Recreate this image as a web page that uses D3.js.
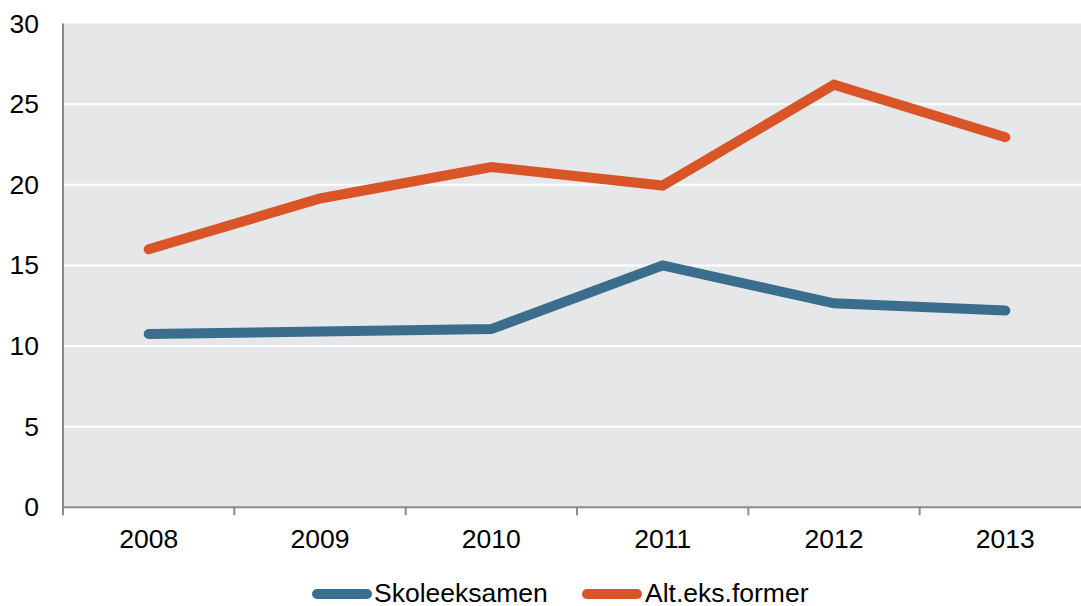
<!DOCTYPE html>
<html><head><meta charset="utf-8">
<script src="https://cdn.jsdelivr.net/npm/d3@7"></script>
<style>body{margin:0;background:#fff}svg{display:block}text{font-family:"Liberation Sans",Arial,sans-serif;fill:#000}</style>
</head><body><svg id="c" width="1081" height="606"></svg>
<script>
const years = ["2008","2009","2010","2011","2012","2013"];
const skoleeksamen = [10.75, 10.9, 11.05, 15.0, 12.65, 12.2];
const altEksFormer = [16.0, 19.15, 21.1, 19.95, 26.2, 22.95];
const yTicks = [0,5,10,15,20,25,30];
const seriesNames = ["Skoleeksamen","Alt.eks.former"];
const colors = ["#3b6d8d","#d95427"];

const svg = d3.select("#c");
const L = 63, R = 1091, T = 23.5, B = 507.3;
const x = d3.scaleBand().domain(years).range([L,R]);
const y = d3.scaleLinear().domain([0,30]).range([B,T]);

svg.append("rect").attr("x",L).attr("y",T).attr("width",R-L).attr("height",B-T).attr("fill","#e6e7e9");
svg.selectAll(".grid").data(yTicks.filter(d=>d>0 && d<30)).enter().append("line")
  .attr("x1",L).attr("x2",R).attr("y1",d=>y(d)).attr("y2",d=>y(d))
  .attr("stroke","#fff").attr("stroke-width",2);

// axes
const axisColor = "#8c8c8c";
svg.append("line").attr("x1",L).attr("x2",L).attr("y1",T).attr("y2",B+8).attr("stroke",axisColor).attr("stroke-width",2);
svg.append("line").attr("x1",L).attr("x2",R).attr("y1",B).attr("y2",B).attr("stroke",axisColor).attr("stroke-width",2);
const bounds = years.slice(1).map(d=>x(d));
svg.selectAll(".xt").data(bounds).enter().append("line")
  .attr("x1",d=>d).attr("x2",d=>d).attr("y1",B).attr("y2",B+8).attr("stroke",axisColor).attr("stroke-width",2);

svg.selectAll(".yl").data(yTicks).enter().append("text")
  .attr("x",39).attr("y",d=>y(d)+9).attr("text-anchor","end").attr("font-size",26.5).text(d=>d);
svg.selectAll(".xl").data(years).enter().append("text")
  .attr("x",d=>x(d)+x.bandwidth()/2).attr("y",548).attr("text-anchor","middle").attr("font-size",26.5).text(d=>d);

const line = d3.line().x((d,i)=>x(years[i])+x.bandwidth()/2).y(d=>y(d));
[skoleeksamen, altEksFormer].forEach((s,i)=>{
  svg.append("path").attr("d",line(s)).attr("fill","none").attr("stroke",colors[i])
    .attr("stroke-width",10).attr("stroke-linecap","round").attr("stroke-linejoin","miter");
});

// legend
const leg = [{x1:317,x2:367,tx:374},{x1:587,x2:637,tx:645}];
seriesNames.forEach((n,i)=>{
  svg.append("line").attr("x1",leg[i].x1).attr("x2",leg[i].x2).attr("y1",594).attr("y2",594)
    .attr("stroke",colors[i]).attr("stroke-width",10).attr("stroke-linecap","round");
  svg.append("text").attr("x",leg[i].tx).attr("y",601.5).attr("font-size",26.5).text(n);
});
</script></body></html>
